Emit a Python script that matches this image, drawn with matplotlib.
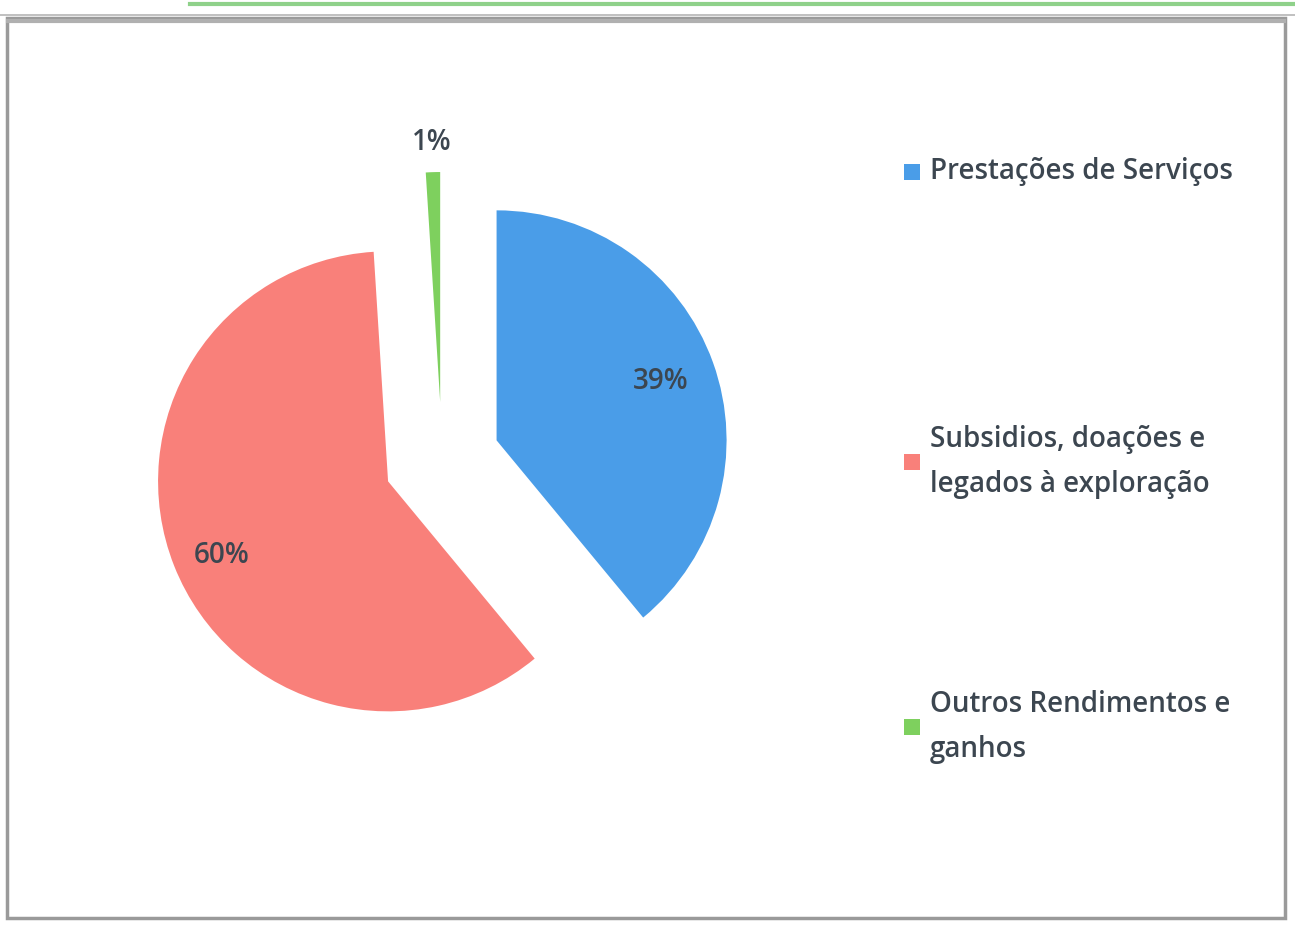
import matplotlib
matplotlib.use("Agg")
import matplotlib.pyplot as plt
from matplotlib.patches import Rectangle
import numpy as np

# ---- data ----
categories = ["Prestações de Serviços",
              "Subsidios, doações e\nlegados à exploração",
              "Outros Rendimentos e\nganhos"]
values = [39, 60, 1]
colors = ["#4a9de8", "#f9807a", "#7ed05e"]

W, H = 1295, 926
fig = plt.figure(figsize=(W / 100, H / 100), dpi=100)
ax = fig.add_axes([0, 0, 1, 1])
ax.set_xlim(0, W)
ax.set_ylim(0, H)
ax.set_aspect("equal")
ax.set_axis_off()

text_color = "#3c4650"
font = "Open Sans"

# frame
ax.add_patch(Rectangle((7, 8), 1278, 900, fill=False, edgecolor="#9a9a9a", lw=2.5))
ax.plot([8, 1284], [905, 905], color="#b0b0b0", lw=3)
ax.plot([190, W], [922, 922], color="#8fd18a", lw=3)
ax.plot([0, W], [911, 911], color="#b5b5b5", lw=1.2)

radius = 230
center = (442, H - 460)
wedges, texts, autotexts = ax.pie(
    values, colors=colors, startangle=90, counterclock=False,
    radius=radius, center=center, explode=[58, 58, 58],
    autopct="%d%%", pctdistance=0.76,
    textprops=dict(color=text_color, fontsize=20, family=font,
                   fontweight="semibold"),
    wedgeprops=dict(linewidth=0), frame=True)
ax.set_xlim(0, W)
ax.set_ylim(0, H)
ax.set_axis_off()

# move small slice label outside
w = wedges[2]
tm = np.deg2rad(0.5 * (w.theta1 + w.theta2))
cx, cy = w.center
autotexts[2].set_position((cx + 1.13 * radius * np.cos(tm),
                           cy + 1.13 * radius * np.sin(tm)))
# nudge big slice label slightly
autotexts[1].set_position((autotexts[1].get_position()[0] - 4,
                           autotexts[1].get_position()[1] - 10))

# legend (manual, matching spacing)
leg_y = [H - 172, H - 462, H - 727]
for lab, col, y in zip(categories, colors, leg_y):
    ax.add_patch(Rectangle((904, y - 8), 16, 16, color=col, lw=0))
    ax.text(930, y, lab, ha="left", va="center", fontsize=20,
            family=font, fontweight="semibold", color=text_color,
            linespacing=1.75)

fig.savefig("out.png", dpi=100)
